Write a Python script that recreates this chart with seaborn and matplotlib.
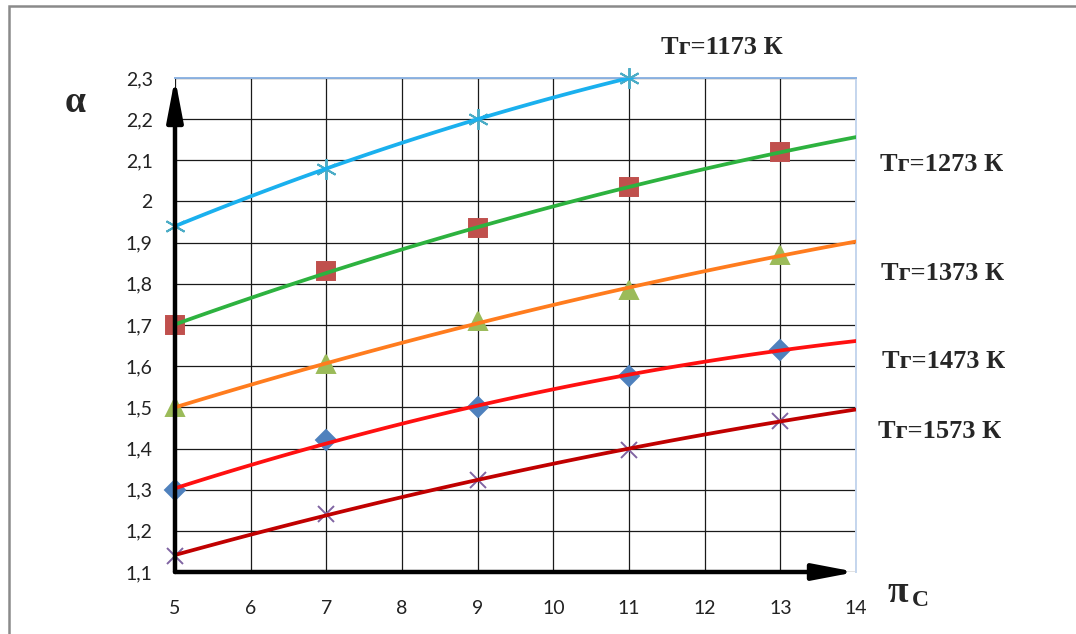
import matplotlib
matplotlib.use("Agg")
import matplotlib.pyplot as plt
import matplotlib.patches as mpatches
import matplotlib.ticker as mticker
import seaborn as sns
import numpy as np

pi_c = [5, 7, 9, 11, 13]
alpha_1173 = [1.94, 2.08, 2.20, 2.30]
alpha_1273 = [1.70, 1.83, 1.935, 2.035, 2.12]
alpha_1373 = [1.50, 1.605, 1.71, 1.785, 1.87]
alpha_1473 = [1.30, 1.42, 1.50, 1.577, 1.64]
alpha_1573 = [1.14, 1.24, 1.324, 1.397, 1.467]
series_labels = ["Tг=1173 К", "Tг=1273 К", "Tг=1373 К", "Tг=1473 К", "Tг=1573 К"]

x_ticks = list(range(5, 15))
y_ticks = [1.1, 1.2, 1.3, 1.4, 1.5, 1.6, 1.7, 1.8, 1.9, 2.0, 2.1, 2.2, 2.3]

sns.set_style("white")
plt.rcParams['font.family'] = ['Lato', 'DejaVu Sans']

fig = plt.figure(figsize=(10.76, 6.34), dpi=100)
ax = fig.add_axes([175 / 1076, 1 - 572 / 634, (856 - 175) / 1076, (572 - 78) / 634])
ax.set_xlim(5, 14)
ax.set_ylim(1.1, 2.3)

# series: (y values, line colour, marker, marker colour, marker size)
styles = [
    (alpha_1173, "#1AB0EE", (6, 2, 0), "#4BACC6", 15),
    (alpha_1273, "#2DB23F", "s", "#C0504D", 13),
    (alpha_1373, "#FF7C1E", "^", "#9BBB59", 13),
    (alpha_1473, "#FF1010", "D", "#4F81BD", 10),
    (alpha_1573, "#C00000", "x", "#8064A2", 12),
]

for yv, lc, mk, mc, ms in styles:
    xv = pi_c[:len(yv)]
    sns.regplot(x=xv, y=yv, order=2, ci=None, truncate=False, scatter=False,
                line_kws=dict(color=lc, lw=2.7, zorder=4), ax=ax)
    ax.plot(xv, yv, linestyle="none", marker=mk, markersize=ms, color=mc,
            markeredgecolor=mc, markeredgewidth=1.4, zorder=3, clip_on=False)

ax.set_xlim(5, 14)
ax.set_ylim(1.1, 2.3)
ax.set_xticks(x_ticks)
ax.set_yticks(y_ticks)
ax.yaxis.set_major_formatter(mticker.FuncFormatter(
    lambda v, p: ("%.1f" % v).rstrip("0").rstrip(".").replace(".", ",")))
ax.grid(True, color="#1a1a1a", lw=0.9)
ax.set_axisbelow(True)
ax.tick_params(axis="x", length=0, pad=20, labelsize=14, colors="#222222")
ax.tick_params(axis="y", length=4, width=4, color="black", pad=12, labelsize=14,
               labelcolor="#222222", direction="out")

for s in ["left", "bottom"]:
    ax.spines[s].set_visible(False)
ax.spines["top"].set_color("#8EB4E3")
ax.spines["top"].set_linewidth(1.4)
ax.spines["right"].set_color("#C5D6EE")
ax.spines["right"].set_linewidth(1.4)

arrow = dict(arrowstyle="-|>,head_length=1.15,head_width=0.22", color="black",
             lw=3.2, mutation_scale=22, shrinkA=0, shrinkB=0)
ax.annotate("", xy=(5, 2.3), xytext=(5, 1.1), xycoords="data",
            arrowprops=arrow, annotation_clip=False, zorder=6)
ax.annotate("", xy=(14, 1.1), xytext=(5, 1.1), xycoords="data",
            arrowprops=arrow, annotation_clip=False, zorder=6)

bold_serif = dict(family="Liberation Serif", fontweight="bold")
label_pos = [(722, 48), (942, 165), (943, 273), (944, 362), (940, 432)]
for lab, (px, py) in zip(series_labels, label_pos):
    fig.text(px / 1076, 1 - py / 634, lab, ha="center", va="center",
             fontsize=19, **bold_serif)

fig.text(75 / 1076, 1 - 102 / 634, "α", ha="center", va="center", fontsize=27, **bold_serif)
fig.text(898 / 1076, 1 - 592 / 634, "π", ha="center", va="center", fontsize=27, **bold_serif)
fig.text(920 / 1076, 1 - 601 / 634, "C", ha="center", va="center", fontsize=17, **bold_serif)

fig.add_artist(mpatches.Rectangle((9 / 1076, -0.2), 1.5, 1 - 6 / 634 + 0.2,
                                  transform=fig.transFigure, fill=False,
                                  edgecolor="#8A8A8A", lw=1.8))

fig.savefig("out.png", dpi=100, facecolor="white")
